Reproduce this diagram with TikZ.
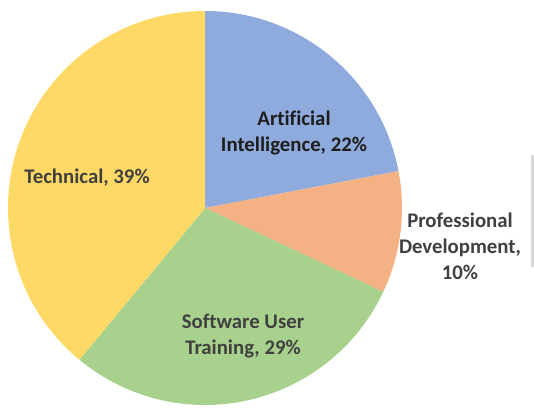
\documentclass[tikz,border=0pt]{standalone}
\usepackage{fontspec}
\setmainfont[Ligatures=NoCommon]{Carlito}
\definecolor{aiblue}{HTML}{8FAADC}
\definecolor{pdorange}{HTML}{F4B183}
\definecolor{swgreen}{HTML}{A9D18E}
\definecolor{techyellow}{HTML}{FFD966}
\definecolor{labelgray}{HTML}{404040}
\definecolor{labeldark}{HTML}{1E1E1E}
\definecolor{edgebar}{HTML}{D9D9D9}
\tikzset{
  lbl/.style={font=\fontsize{20.8}{26}\selectfont\bfseries, text=labelgray, align=center, inner sep=0pt},
}
\begin{document}
\begin{tikzpicture}[x=1pt,y=1pt]
\useasboundingbox (0,0) rectangle (534,407);
\fill[white] (0,0) rectangle (534,407);
\coordinate (C) at (205,199);
\def\R{197}
\fill[aiblue] (C) -- ++(90:\R) arc[start angle=90,end angle=10.8,radius=\R] -- cycle;
\fill[pdorange] (C) -- ++(10.8:\R) arc[start angle=10.8,end angle=-25.2,radius=\R] -- cycle;
\fill[swgreen] (C) -- ++(-25.2:\R) arc[start angle=-25.2,end angle=-129.6,radius=\R] -- cycle;
\fill[techyellow] (C) -- ++(-129.6:\R) arc[start angle=-129.6,end angle=-270,radius=\R] -- cycle;
\fill[edgebar] (531,140) rectangle (534,252);
\node[lbl, text=labeldark] (ai) at (294,274) {Artificial\\Intelligence, 22\%};
\node[lbl] (tech) at (87,229) {Technical, 39\%};
\node[lbl] (pd) at (460,161) {Professional\\Development,\\10\%};
\node[lbl] (sw) at (243,71) {Software User\\Training, 29\%};
\end{tikzpicture}
\end{document}
